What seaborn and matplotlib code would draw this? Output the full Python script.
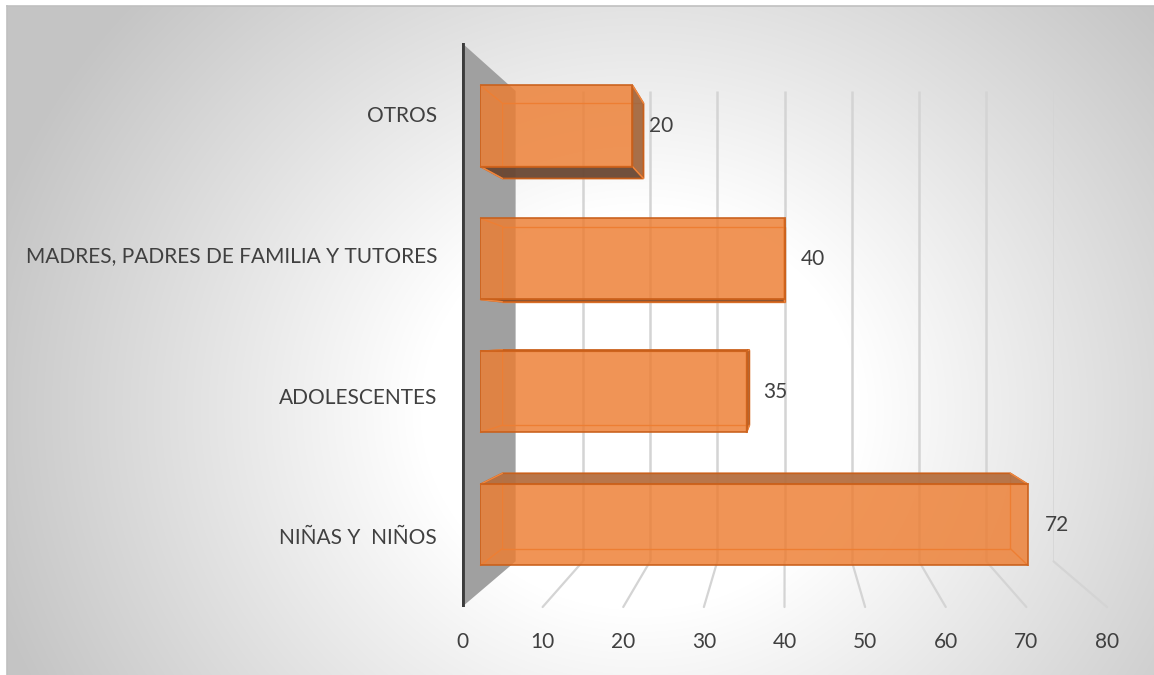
import numpy as np
import matplotlib
matplotlib.use("Agg")
import matplotlib.pyplot as plt
from matplotlib.patches import Polygon
import seaborn as sns

CATEGORIES = ["OTROS", "MADRES, PADRES DE FAMILIA Y TUTORES", "ADOLESCENTES", "NIÑAS Y  NIÑOS"]
VALUES = [20, 40, 35, 72]
XTICKS = [0, 10, 20, 30, 40, 50, 60, 70, 80]
XMAX = 80

W, H = 1154, 675
EYE = (785, 332)               # vanishing point (px)
FRONT = (462, 1107, 43, 607)   # front plane in px: x=0, x=XMAX, top, bottom
WALL, BAR_BACK, BAR_FRONT = 0.834, 0.875, 0.943   # depth scale of each plane

ORANGE = "#ed7d31"
EDGE = "#c95f1a"
TEXT = "#404040"
GRID = "#d4d4d4"
FACE = {"top": "#b56f40", "bottom": "#6a4733", "right": "#a4683f", "left": "#f3a46e"}

sns.set_theme(style="white")
plt.rcParams["font.family"] = ["Lato", "DejaVu Sans"]
plt.rcParams["font.size"] = 15


def plane(fig, scale, z):
    xs = [EYE[0] + (v - EYE[0]) * scale for v in FRONT[:2]]
    ys = [EYE[1] + (v - EYE[1]) * scale for v in FRONT[2:]]
    return fig.add_axes([xs[0] / W, 1 - ys[1] / H, (xs[1] - xs[0]) / W, (ys[1] - ys[0]) / H], zorder=z)


def setup(ax):
    ax.set_xlim(0, XMAX)
    ax.set_ylim(len(CATEGORIES) - 0.5, -0.5)
    ax.patch.set_visible(False)
    for s in ax.spines.values():
        s.set_visible(False)
    ax.set_xticks([])
    ax.set_yticks([])
    ax.set_xlabel("")
    ax.set_ylabel("")


def move(pts, src, dst):
    return dst.transData.inverted().transform(src.transData.transform(np.asarray(pts, float)))


def corners(p):
    x0, y0 = p.get_x(), p.get_y()
    x1, y1 = x0 + p.get_width(), y0 + p.get_height()
    return np.array([[x0, y0], [x1, y0], [x1, y1], [x0, y1]])


fig = plt.figure(figsize=(W / 100, H / 100), dpi=100)
fig.patch.set_facecolor("white")

# background: soft radial grey gradient
ax_bg = fig.add_axes([7 / W, 0, (W - 7) / W, (H - 6) / H], zorder=0)
yy, xx = np.mgrid[6:H, 7:W]
d = np.hypot(xx - 640, (yy - 410) * 1.1)
shade = 1 - 0.23 * np.clip((d - 220) / 460, 0, 1)
ax_bg.imshow(np.dstack([shade] * 3), aspect="auto", extent=(0, 1, 0, 1), interpolation="bilinear")
ax_bg.set_xticks([])
ax_bg.set_yticks([])
for s in ax_bg.spines.values():
    s.set_color("#c0c0c0")
    s.set_linewidth(1.2)
ax_bg.spines["right"].set_visible(False)
ax_bg.spines["bottom"].set_visible(False)

# axes for each depth plane
ax_wall = plane(fig, WALL, 1)
ax_back = plane(fig, BAR_BACK, 2)
ax_front = plane(fig, BAR_FRONT, 4)
ax_floor = plane(fig, 1.0, 5)

sns.barplot(x=VALUES, y=CATEGORIES, orient="h", width=0.61, ax=ax_back,
            color=ORANGE, saturation=1, edgecolor="#ee8740", linewidth=1.0)
for p in ax_back.patches:
    p.set_facecolor("none")
sns.barplot(x=VALUES, y=CATEGORIES, orient="h", width=0.61, ax=ax_front,
            color=ORANGE, saturation=1, alpha=0.82, edgecolor=EDGE, linewidth=1.4)
for ax in (ax_wall, ax_back, ax_front, ax_floor):
    setup(ax)

# back wall gridlines and the grey side wall
ax_wall.vlines(XTICKS[1:], -0.5, len(CATEGORIES) - 0.5, color=GRID, lw=1.8)
ylo, yhi = -0.5, len(CATEGORIES) - 0.5
front_edge = move([[0, ylo], [0, yhi]], ax_floor, ax_wall)
ax_wall.add_patch(Polygon([[0, ylo], front_edge[0], front_edge[1], [0, yhi]],
                          closed=True, facecolor="#a0a0a0", edgecolor="none", clip_on=False))
for v in XTICKS[1:]:
    fx, fy = move([[v, yhi]], ax_floor, ax_wall)[0]
    ax_wall.plot([v, fx], [yhi, fy], color=GRID, lw=1.6, clip_on=False)

# side faces of the 3D bars
for pf, pb in zip(ax_front.patches, ax_back.patches):
    f = corners(pf)
    b = move(corners(pb), ax_back, ax_front)
    faces = []
    if b[0, 1] < f[0, 1]:
        faces.append(("top", [f[0], f[1], b[1], b[0]]))
    if b[2, 1] > f[2, 1]:
        faces.append(("bottom", [f[3], f[2], b[2], b[3]]))
    if b[1, 0] > f[1, 0]:
        faces.append(("right", [f[1], f[2], b[2], b[1]]))
    if b[0, 0] < f[0, 0]:
        faces.append(("left", [f[0], f[3], b[3], b[0]]))
    for name, pts in faces:
        ax_front.add_patch(Polygon(pts, closed=True, facecolor=FACE[name], alpha=0.95,
                                   edgecolor=EDGE, lw=1.2, clip_on=False, zorder=0.5))
    for k in range(4):
        ax_front.plot([f[k, 0], b[k, 0]], [f[k, 1], b[k, 1]], color="#ee8740", lw=1.0,
                      clip_on=False, zorder=0.6)

for i, v in enumerate(VALUES):
    ax_front.annotate(f"{v}", (v, i), xytext=(12, 0), textcoords="offset points",
                      ha="left", va="center", color=TEXT, fontsize=15)

# front plane: wall edge, tick labels, category labels
ax_floor.axvline(0, color="#3c3c3c", lw=3.5, solid_capstyle="round")
ax_floor.set_xticks(XTICKS)
ax_floor.set_xticklabels([str(t) for t in XTICKS], color=TEXT, fontsize=15)
ax_floor.set_yticks(range(len(CATEGORIES)))
ax_floor.set_yticklabels(CATEGORIES, color=TEXT, fontsize=15)
ax_floor.tick_params(axis="x", length=0, pad=18)
ax_floor.tick_params(axis="y", length=0, pad=18)

fig.savefig("out.png", dpi=100)
